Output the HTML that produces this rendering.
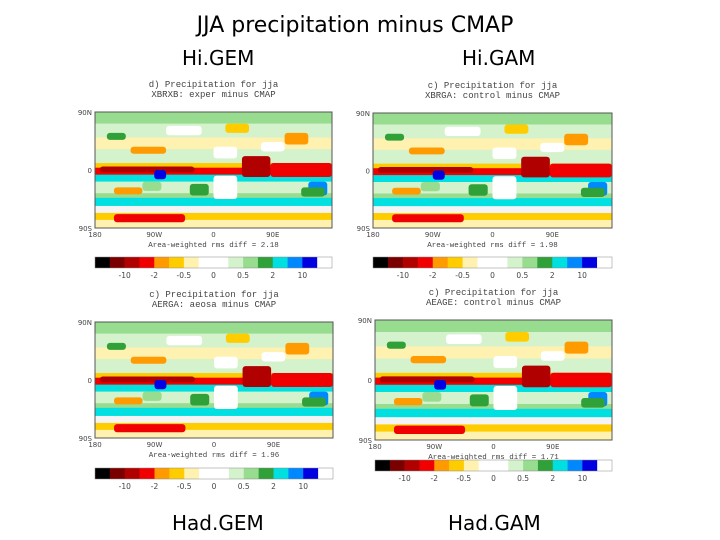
<!DOCTYPE html>
<html><head><meta charset="utf-8"><style>
body{margin:0;background:#fff;}
#wrap{position:relative;width:720px;height:540px;overflow:hidden;font-family:"DejaVu Sans","Liberation Sans",sans-serif;}
.t{position:absolute;color:#000;white-space:nowrap;}
</style></head><body>
<div id="wrap">
<div class="t" style="left:0;width:710px;text-align:center;top:13px;font-size:22px;">JJA precipitation minus CMAP</div>
<div class="t" style="left:182px;top:46px;font-size:20px;">Hi.GEM</div>
<div class="t" style="left:462px;top:46px;font-size:20px;">Hi.GAM</div>
<div class="t" style="left:172px;top:511px;font-size:20px;">Had.GEM</div>
<div class="t" style="left:448px;top:511px;font-size:20px;">Had.GAM</div>
<svg id="svg" width="720" height="540" style="position:absolute;left:0;top:0"></svg>
</div>
<script>
const cbColors=["#000000","#7a0000","#b00000","#f00000","#ff9a00","#ffcc00","#fff2b0","#ffffff","#ffffff","#d4f2cc","#98dc90","#30a038","#00e0e0","#0088ff","#0000e0","#ffffff"];
const cbTicks=["-10","-2","-0.5","0","0.5","2","10"];
const panels=[
 {x:95,y:112,w:237,h:116,cy:257,t1:"d) Precipitation for jja",t2:"XBRXB: exper minus CMAP",rms:"Area-weighted rms diff = 2.18",name:"higem"},
 {x:373,y:113,w:239,h:115,cy:257,t1:"c) Precipitation for jja",t2:"XBRGA: control minus CMAP",rms:"Area-weighted rms diff = 1.98",name:"higam"},
 {x:95,y:322,w:238,h:116,cy:468,t1:"c) Precipitation for jja",t2:"AERGA: aeosa minus CMAP",rms:"Area-weighted rms diff = 1.96",name:"hadgem"},
 {x:375,y:320,w:237,h:120,cy:460,t1:"c) Precipitation for jja",t2:"AEAGE: control minus CMAP",rms:"Area-weighted rms diff = 1.71",name:"hadgam"}
];
const bands=[[0,0.1,"#98dc90"],[0.1,0.12,"#d4f2cc"],[0.22,0.1,"#fff2b0"],[0.32,0.12,"#d4f2cc"],[0.44,0.04,"#ffcc00"],[0.48,0.06,"#f00000"],[0.54,0.06,"#00e0e0"],[0.6,0.1,"#d4f2cc"],[0.7,0.04,"#98dc90"],[0.74,0.07,"#00e0e0"],[0.81,0.06,"#f4f4f4"],[0.87,0.06,"#ffcc00"],[0.93,0.07,"#fff2b0"]];
const blobs=[[0.62,0.38,0.12,0.18,"#b00000"],[0.74,0.44,0.26,0.12,"#f00000"],[0.02,0.47,0.4,0.05,"#b00000"],[0.25,0.5,0.05,0.08,"#0000e0"],[0.8,0.18,0.1,0.1,"#ff9a00"],[0.55,0.1,0.1,0.08,"#ffcc00"],[0.08,0.65,0.12,0.06,"#ff9a00"],[0.5,0.55,0.1,0.2,"#ffffff"],[0.4,0.62,0.08,0.1,"#30a038"],[0.9,0.6,0.08,0.12,"#0088ff"],[0.15,0.3,0.15,0.06,"#ff9a00"],[0.08,0.88,0.3,0.07,"#f00000"],[0.5,0.3,0.1,0.1,"#ffffff"],[0.3,0.12,0.15,0.08,"#ffffff"],[0.7,0.26,0.1,0.08,"#ffffff"],[0.05,0.18,0.08,0.06,"#30a038"],[0.87,0.65,0.1,0.08,"#30a038"],[0.2,0.6,0.08,0.08,"#98dc90"]];
const svg=document.getElementById('svg');
const NS="http://www.w3.org/2000/svg";
function mk(tag,at,txt){const e=document.createElementNS(NS,tag);for(const k in at)e.setAttribute(k,at[k]);if(txt!==undefined)e.textContent=txt;svg.appendChild(e);return e;}
panels.forEach(p=>{
 let a=mk('text',{x:p.x+p.w/2,y:p.y-25,'font-size':9,'text-anchor':'middle','font-family':'Liberation Mono,monospace',fill:'#444'},p.t1);
 
 
 a=mk('text',{x:p.x+p.w/2,y:p.y-15,'font-size':9,'text-anchor':'middle','font-family':'Liberation Mono,monospace',fill:'#444'},p.t2);
 
 
 bands.forEach(b=>{const r=mk('rect',{x:p.x,y:p.y+b[0]*p.h,width:p.w,height:b[1]*p.h+0.5,fill:b[2]});
  
  });
 blobs.forEach(b=>{const r=mk('rect',{x:p.x+b[0]*p.w,y:p.y+b[1]*p.h,width:b[2]*p.w,height:b[3]*p.h,fill:b[4],rx:3});
  
  });
 const fr=mk('rect',{x:p.x,y:p.y,width:p.w,height:p.h,fill:'none',stroke:'#555','stroke-width':1});
 
 
 [["90N",0],["0",0.5],["90S",1]].forEach(l=>{const t=mk('text',{x:p.x-3,y:p.y+l[1]*p.h+3,'font-size':7,'text-anchor':'end',fill:'#444'},l[0]);
  
  });
 [["180",0],["90W",0.25],["0",0.5],["90E",0.75]].forEach(l=>{const t=mk('text',{x:p.x+l[1]*p.w,y:p.y+p.h+9,'font-size':7,'text-anchor':'middle',fill:'#444'},l[0]);
  
  });
 a=mk('text',{x:p.x+p.w/2,y:p.y+p.h+19,'font-size':7.5,'text-anchor':'middle','font-family':'Liberation Mono,monospace',fill:'#444'},p.rms);
 
 
 const cw=p.w/cbColors.length;
 cbColors.forEach((c,i)=>{const r=mk('rect',{x:p.x+i*cw,y:p.cy,width:cw+0.3,height:11,fill:c});
  
  });
 const cb=mk('rect',{x:p.x,y:p.cy,width:p.w,height:11,fill:'none',stroke:'#888','stroke-width':0.5});
 
 
 cbTicks.forEach((t,i)=>{const e=mk('text',{x:p.x+cw*(2+2*i),y:p.cy+21,'font-size':7.5,'text-anchor':'middle',fill:'#444'},t);
  
  });
});
</script>
</body></html>
